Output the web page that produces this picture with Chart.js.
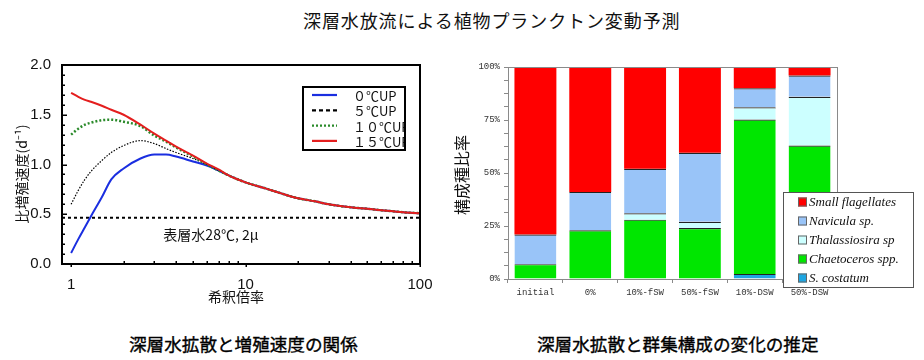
<!DOCTYPE html>
<html><head><meta charset="utf-8">
<script src="https://cdn.jsdelivr.net/npm/chart.js@4.4.0/dist/chart.umd.min.js"></script>
<style>
html,body{margin:0;padding:0;background:#fff;}
body{width:924px;height:360px;overflow:hidden;position:relative;font-family:"Noto Sans CJK JP",sans-serif;color:#111;}
.t{position:absolute;white-space:nowrap;line-height:20px;}
#title{left:303px;top:10px;font-size:18px;letter-spacing:0.9px;}
#cap1{left:129px;top:334px;font-size:17.6px;font-weight:400;color:#000;-webkit-text-stroke:0.35px #000;}
#cap2{left:537px;top:334px;font-size:17.6px;font-weight:400;color:#000;-webkit-text-stroke:0.35px #000;}
#w1{position:absolute;left:0;top:40px;width:440px;height:280px;}
#w2{position:absolute;left:440px;top:40px;width:484px;height:285px;}
#frame1{position:absolute;left:61px;top:64px;width:360px;height:201px;border:2px solid #000;box-sizing:border-box;pointer-events:none;}
</style></head>
<body>
<div class="t" id="title">深層水放流による植物プランクトン変動予測</div>
<div id="w1"><canvas id="c1" width="440" height="280"></canvas></div>
<div id="w2"><canvas id="c2" width="484" height="285"></canvas></div>
<div id="frame1"></div>
<div class="t" id="cap1">深層水拡散と増殖速度の関係</div>
<div class="t" id="cap2">深層水拡散と群集構成の変化の推定</div>
<script>
// ---------- Left chart data ----------
const dilution = [1,1.1,1.2,1.3,1.5,1.7,2,2.5,3,3.5,4,5,6,7,8,10,13,16,20,25,30,40,50,60,70,80,100];
const up0  = [0.11,0.25,0.37,0.48,0.67,0.85,0.96,1.06,1.10,1.10,1.08,1.03,0.99,0.94,0.89,0.82,0.76,0.71,0.66,0.63,0.60,0.57,0.555,0.54,0.53,0.52,0.51];
const up5  = [0.60,0.74,0.85,0.93,1.04,1.12,1.19,1.24,1.21,1.16,1.12,1.06,1.00,0.94,0.89,0.82,0.76,0.71,0.66,0.63,0.60,0.57,0.555,0.54,0.53,0.52,0.51];
const up10 = [1.30,1.36,1.40,1.42,1.445,1.45,1.43,1.385,1.29,1.23,1.17,1.08,1.00,0.94,0.89,0.82,0.76,0.71,0.66,0.63,0.60,0.57,0.555,0.54,0.53,0.52,0.51];
const up15 = [1.72,1.68,1.65,1.63,1.59,1.55,1.50,1.40,1.31,1.24,1.18,1.09,1.01,0.95,0.89,0.82,0.76,0.71,0.66,0.63,0.60,0.57,0.555,0.54,0.53,0.52,0.51];
const surfaceRate = 0.465;
const seriesLabels = ['０℃UP','５℃UP','１０℃UP','１５℃UP'];
const xMajorTicks = [1,10,100];
const xMinorTicks = [2,3,4,5,6,7,8,9,20,30,40,50,60,70,80,90];
const yTickMarks = [0.1,0.2,0.3,0.4,0.5,0.6,0.7,0.8,0.9,1.0,1.1,1.2,1.3,1.4,1.5,1.6,1.7,1.8,1.9];
const annotationText = '表層水28℃, 2μ';
const annotationPos = {x:3.38, y:0.29};

// ---------- Right chart data ----------
const groups = ['initial','0%','10%-fSW','50%-fSW','10%-DSW','50%-DSW'];
const sCostatum     = [0,0,0,0,2.4,0];
const chaetoceros   = [7,23,28,24,72.8,63];
const thalassiosira = [0,0,3,3,5.8,23];
const navicula      = [14,18,21,32.5,9,10];
const smallFlag     = [79,59,48,40.5,10,4];
const pctTicks = [0,25,50,75,100];

const pts = arr => arr.map((v,i)=>({x:dilution[i], y:v}));

const leftPlugin = {
  id:'leftDecor',
  afterDraw(chart){
    const ctx = chart.ctx, a = chart.chartArea, x = chart.scales.x, y = chart.scales.y;
    const L = Math.round(a.left), T = Math.round(a.top), R = Math.round(a.right), B = Math.round(a.bottom);
    ctx.save();
    ctx.fillStyle = '#000';
    ctx.fillRect(L-1, T-1, R-L+2, 2);
    ctx.fillRect(L-1, B-1, R-L+2, 2);
    ctx.fillRect(L-1, T-1, 2, B-T+2);
    ctx.fillRect(R-1, T-1, 2, B-T+2);
    yTickMarks.forEach(v=>{
      const py = Math.round(y.getPixelForValue(v));
      const major = Math.abs(v*2 - Math.round(v*2)) < 1e-6;
      ctx.fillRect(L, py-0.5, major ? 5 : 3, 1.5);
    });
    xMinorTicks.forEach(v=>{
      const px = Math.round(x.getPixelForValue(v));
      ctx.fillRect(px-0.5, B-3, 1.5, 3);
    });
    xMajorTicks.forEach(v=>{
      const px = Math.round(x.getPixelForValue(v));
      ctx.fillRect(px-0.5, B, 1.5, 3);
    });
    ctx.fillStyle = '#111';
    ctx.font = '14px "Noto Sans CJK JP"';
    ctx.textBaseline = 'middle'; ctx.textAlign = 'left';
    ctx.fillText(annotationText, x.getPixelForValue(annotationPos.x), y.getPixelForValue(annotationPos.y));
    ctx.textAlign = 'center';
    ctx.fillText('希釈倍率', a.left + 174, a.bottom + 33);
    ctx.save();
    ctx.translate(22, a.top + 109);
    ctx.rotate(-Math.PI/2);
    ctx.fillText('比増殖速度(d⁻¹)', 0, 0);
    ctx.restore();
    const bx = a.right - 117, by = a.top + 22, bw = 102, bh = 63;
    ctx.fillStyle = '#fff'; ctx.fillRect(bx, by, bw, bh);
    ctx.save();
    ctx.beginPath(); ctx.rect(bx, by, bw, bh); ctx.clip();
    const ds = chart.data.datasets.filter(d=>d.showInLegend);
    ds.forEach((d,i)=>{
      const ry = by + 8 + i*15.3;
      ctx.strokeStyle = d.borderColor; ctx.lineWidth = 2.2;
      ctx.setLineDash(d.legendDash || []);
      ctx.beginPath(); ctx.moveTo(bx+9, ry); ctx.lineTo(bx+34, ry); ctx.stroke();
      ctx.setLineDash([]);
      ctx.fillStyle = '#111'; ctx.textAlign = 'left'; ctx.textBaseline = 'middle';
      ctx.font = '13px "Noto Sans CJK JP"';
      ctx.fillText(d.label, bx+50, ry+1);
    });
    ctx.restore();
    ctx.setLineDash([]);
    ctx.strokeStyle = '#000'; ctx.lineWidth = 2;
    ctx.strokeRect(bx, by, bw, bh);
    ctx.restore();
  }
};

const blackBorder = {display:true, color:'#000', width:2};
new Chart(document.getElementById('c1'), {
  type:'line',
  data:{datasets:[
    {label:seriesLabels[0], data:pts(up0), borderColor:'#1a2ee0', borderWidth:2, order:3, showInLegend:true},
    {label:seriesLabels[1], data:pts(up5), borderColor:'#000', borderWidth:1.2, borderDash:[1.5,1.5], legendDash:[4,3], order:2, showInLegend:true},
    {label:seriesLabels[2], data:pts(up10), borderColor:'#2a8a2a', borderWidth:2.5, borderDash:[2,2], legendDash:[2,2], order:1, showInLegend:true},
    {label:seriesLabels[3], data:pts(up15), borderColor:'#e41e1e', borderWidth:2, order:0, showInLegend:true},
    {label:'surface', data:[{x:0.887,y:surfaceRate},{x:100,y:surfaceRate}], borderColor:'#000', borderWidth:2, borderDash:[3,3], order:4, showInLegend:false, tension:0}
  ]},
  options:{
    responsive:false, animation:false, devicePixelRatio:1,
    layout:{padding:{top:25,right:20,left:0,bottom:0}},
    elements:{point:{radius:0}, line:{cubicInterpolationMode:'monotone', fill:false}},
    plugins:{legend:{display:false}, tooltip:{enabled:false}},
    scales:{
      x:{type:'logarithmic', position:'bottom', min:0.887, max:100,
        afterBuildTicks:s=>{s.ticks = xMajorTicks.map(v=>({value:v, major:true}));},
        afterFit:s=>{s.height=56;},
        grid:{display:false}, border:blackBorder,
        ticks:{autoSkip:false, maxRotation:0, padding:4, color:'#111', font:{family:'Liberation Sans', size:15}, callback:v=>String(v)}
      },
      y:{position:'left', min:0, max:2,
        afterFit:s=>{s.width=62;},
        grid:{display:false}, border:blackBorder,
        ticks:{stepSize:0.5, padding:3, color:'#111', font:{family:'Liberation Sans', size:15}, callback:v=>Number(v).toFixed(1)}
      }
    }
  },
  plugins:[leftPlugin]
});

// ---------- Right chart ----------
const rightPlugin = {
  id:'rightDecor',
  afterDraw(chart){
    const ctx = chart.ctx, a = chart.chartArea;
    const L = Math.round(a.left), T = Math.round(a.top), R = Math.round(a.right), B = Math.round(a.bottom);
    ctx.save();
    ctx.fillStyle='#8a8a8a';
    ctx.fillRect(L, T, R-L+1, 1);
    ctx.fillRect(R, T, 1, B-T);
    ctx.fillStyle='#111';
    ctx.font='16px "Noto Sans CJK JP"';
    ctx.textAlign='center'; ctx.textBaseline='middle';
    ctx.save(); ctx.translate(22, a.top+108); ctx.rotate(-Math.PI/2);
    ctx.fillText('構成種比率',0,0); ctx.restore();
    const bx=a.left+275, by=a.top+125, bw=130, bh=95;
    ctx.fillStyle='#fff'; ctx.fillRect(bx,by,bw,bh);
    ctx.strokeStyle='#555'; ctx.lineWidth=1; ctx.strokeRect(bx+0.5,by+0.5,bw,bh);
    const ds = chart.data.datasets.slice().reverse();
    ds.forEach((d,i)=>{
      const ry = by+10+i*19;
      ctx.fillStyle=d.backgroundColor;
      ctx.fillRect(bx+15, ry-4.5, 9, 9);
      ctx.strokeStyle='#666'; ctx.lineWidth=1;
      ctx.strokeRect(bx+15.5, ry-4, 8, 8);
      ctx.fillStyle='#111'; ctx.textAlign='left'; ctx.textBaseline='middle';
      ctx.font='italic 13px "Liberation Serif"';
      ctx.fillText(d.label, bx+26, ry+1);
    });
    ctx.restore();
  }
};

const grayBorder = {display:true, color:'#8a8a8a', width:1};
const segBorder = {top:1.2, bottom:0, left:0, right:0};
new Chart(document.getElementById('c2'), {
  type:'bar',
  data:{labels:groups, datasets:[
    {label:'S. costatum', data:sCostatum, backgroundColor:'#1ea6e2', borderColor:'#222', borderWidth:segBorder},
    {label:'Chaetoceros spp.', data:chaetoceros, backgroundColor:'#00e600', borderColor:'#222', borderWidth:segBorder},
    {label:'Thalassiosira sp', data:thalassiosira, backgroundColor:'#ccffff', borderColor:'#222', borderWidth:segBorder},
    {label:'Navicula sp.', data:navicula, backgroundColor:'#99c4f8', borderColor:'#222', borderWidth:segBorder},
    {label:'Small flagellates', data:smallFlag, backgroundColor:'#ff0000', borderColor:'#222', borderWidth:0}
  ]},
  options:{
    responsive:false, animation:false, devicePixelRatio:1,
    layout:{padding:{top:27,right:87,left:0,bottom:0}},
    datasets:{bar:{categoryPercentage:1, barPercentage:0.765, borderSkipped:'start'}},
    plugins:{legend:{display:false}, tooltip:{enabled:false}},
    scales:{
      x:{stacked:true, position:'bottom',
        afterFit:s=>{s.height=46;},
        grid:{display:true, drawOnChartArea:false, drawTicks:true, tickLength:4, color:'#8a8a8a', offset:true},
        border:grayBorder,
        ticks:{padding:4, color:'#333', font:{family:'Liberation Mono', size:9}, maxRotation:0, autoSkip:false}
      },
      y:{stacked:true, position:'left', min:0, max:100,
        afterFit:s=>{s.width=68;},
        grid:{display:true, drawOnChartArea:false, drawTicks:true, tickLength:4, color:'#8a8a8a'},
        border:grayBorder,
        ticks:{stepSize:6.25, maxTicksLimit:30, autoSkip:false, padding:4, color:'#333', font:{family:'Liberation Mono', size:9},
          callback:v=> pctTicks.includes(v) ? v+'%' : ''}
      }
    }
  },
  plugins:[rightPlugin]
});
</script>
</body></html>
